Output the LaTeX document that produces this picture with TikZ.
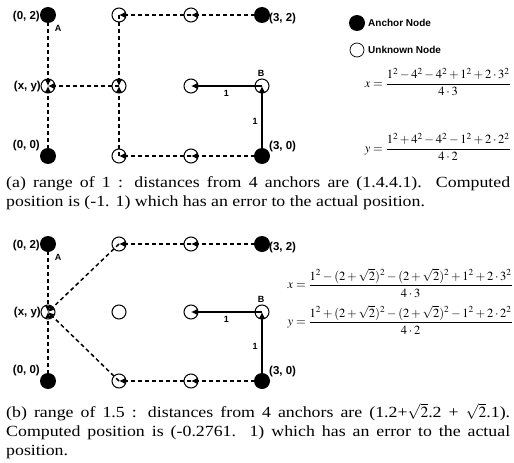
\documentclass[tikz,border=0pt]{standalone}
\usepackage{amsmath}
\usepackage{mathptmx}
\usepackage[no-math]{fontspec}
\setmainfont{Liberation Serif}
\setsansfont{Liberation Sans}
\newfontfamily\capfont[FakeStretch=1.15]{Liberation Serif}
\usetikzlibrary{arrows.meta}
\tikzset{
  anchornode/.style={circle, fill=black, minimum size=16pt, inner sep=0pt},
  unknode/.style={circle, draw, line width=1pt, minimum size=14pt, inner sep=0pt},
  coordlabel/.style={font=\sffamily\bfseries\fontsize{11.5}{12}\selectfont, inner sep=1pt},
  smalllabel/.style={font=\sffamily\bfseries\fontsize{9}{10}\selectfont, inner sep=1.5pt},
  legendtext/.style={font=\sffamily\bfseries\fontsize{10}{11}\selectfont, anchor=west, inner sep=0pt},
  eqn/.style={font=\fontsize{12.5}{14}\selectfont, anchor=east, inner sep=0pt},
  captiontext/.style={font=\capfont\fontsize{15.5}{19}\selectfont, text width=504pt, align=justify, anchor=north west, inner sep=0pt},
  link/.style={-{Latex[length=6pt,width=6pt]}, line width=1.5pt},
  dashlink/.style={link, dash pattern=on 4pt off 3pt}
}

\begin{document}
\begin{tikzpicture}[x=1pt, y=-1pt]
\useasboundingbox (0,0) rectangle (514,463);

% (a) range of 1
\node[anchornode] (a02) at (48,15) {};
\node[unknode] (a12) at (119,15) {};
\node[unknode] (a22) at (191,15) {};
\node[anchornode] (a32) at (262,15) {};
\node[unknode] (a01) at (48,86) {};
\node[unknode] (a11) at (119,86) {};
\node[unknode] (a21) at (191,86) {};
\node[unknode] (a31) at (262,86) {};
\node[anchornode] (a00) at (48,156) {};
\node[unknode] (a10) at (119,156) {};
\node[unknode] (a20) at (191,156) {};
\node[anchornode] (a30) at (262,156) {};

\node[coordlabel, anchor=east] (la02) at (41,17) {(0, 2)};
\node[coordlabel, anchor=east] (la01) at (42,87) {(x, y)};
\node[coordlabel, anchor=east] (la00) at (41,146) {(0, 0)};
\node[coordlabel, anchor=west] (la32) at (268,19) {(3, 2)};
\node[coordlabel, anchor=west] (la30) at (268,147) {(3, 0)};
\node[smalllabel] (laA) at (58,28) {A};
\node[smalllabel] (laB) at (261,73) {B};

\draw[dashlink] (a02.center) -- (a01.center);
\draw[dashlink] (a00.center) -- (a01.center);
\draw[dashlink] (a32.center) -- (a22.center);
\draw[dashlink] (a22.center) -- (a12.center);
\draw[dashlink] (a12.center) -- (a11.center);
\draw[dashlink] (a30.center) -- (a20.center);
\draw[dashlink] (a20.center) -- (a10.center);
\draw[dashlink] (a10.center) -- (a11.center);
\draw[dashlink] (a11.center) -- (a01.center);
\draw[link] (a30.center) -- node[smalllabel, left=2pt]{1} (a31.center);
\draw[link] (a31.center) -- node[smalllabel, below=2pt]{1} (a21.center);

% legend
\node[anchornode] (keyanchor) at (357,23) {};
\node[legendtext] (keyanchortext) at (368,23) {Anchor Node};
\node[unknode, line width=0.7pt] (keyunk) at (357,50) {};
\node[legendtext] (keyunktext) at (368,50) {Unknown Node};

\node[eqn] (eqax) at (511,82) {$x=\dfrac{1^2-4^2-4^2+1^2+2\cdot3^2}{4\cdot3}$};
\node[eqn] (eqay) at (511,147) {$y=\dfrac{1^2+4^2-4^2-1^2+2\cdot2^2}{4\cdot2}$};

\node[captiontext] (capa) at (6,176) {(a) range of 1 : distances from 4 anchors are (1.4.4.1). Computed\linebreak position is (-1. 1) which has an error to the actual position.};

% (b) range of 1.5
\node[anchornode] (b02) at (48,244) {};
\node[unknode] (b12) at (119,244) {};
\node[unknode] (b22) at (191,244) {};
\node[anchornode] (b32) at (262,244) {};
\node[unknode] (b01) at (48,312) {};
\node[unknode] (b11) at (119,312) {};
\node[unknode] (b21) at (191,312) {};
\node[unknode] (b31) at (262,312) {};
\node[anchornode] (b00) at (48,381) {};
\node[unknode] (b10) at (119,381) {};
\node[unknode] (b20) at (191,381) {};
\node[anchornode] (b30) at (262,381) {};

\node[coordlabel, anchor=east] (lb02) at (41,246) {(0, 2)};
\node[coordlabel, anchor=east] (lb01) at (42,313) {(x, y)};
\node[coordlabel, anchor=east] (lb00) at (41,371) {(0, 0)};
\node[coordlabel, anchor=west] (lb32) at (268,248) {(3, 2)};
\node[coordlabel, anchor=west] (lb30) at (268,372) {(3, 0)};
\node[smalllabel] (lbA) at (58,257) {A};
\node[smalllabel] (lbB) at (261,299) {B};

\draw[dashlink] (b02.center) -- (b01.center);
\draw[dashlink] (b00.center) -- (b01.center);
\draw[dashlink] (b32.center) -- (b22.center);
\draw[dashlink] (b22.center) -- (b12.center);
\draw[dashlink] (b12.center) -- (b01.center);
\draw[dashlink] (b30.center) -- (b20.center);
\draw[dashlink] (b20.center) -- (b10.center);
\draw[dashlink] (b10.center) -- (b01.center);
\draw[link] (b30.center) -- node[smalllabel, left=2pt]{1} (b31.center);
\draw[link] (b31.center) -- node[smalllabel, below=2pt]{1} (b21.center);

\node[eqn] (eqbx) at (513,283) {$x=\dfrac{1^2-(2+\sqrt{2})^2-(2+\sqrt{2})^2+1^2+2\cdot3^2}{4\cdot3}$};
\node[eqn] (eqby) at (513,320) {$y=\dfrac{1^2+(2+\sqrt{2})^2-(2+\sqrt{2})^2-1^2+2\cdot2^2}{4\cdot2}$};

\node[captiontext] (capb) at (6,403) {(b) range of 1.5 : distances from 4 anchors are (1.2+$\sqrt{2}$.2 + $\sqrt{2}$.1).\linebreak Computed position is (-0.2761. 1) which has an error to the actual\linebreak position.};
\end{tikzpicture}
\end{document}
